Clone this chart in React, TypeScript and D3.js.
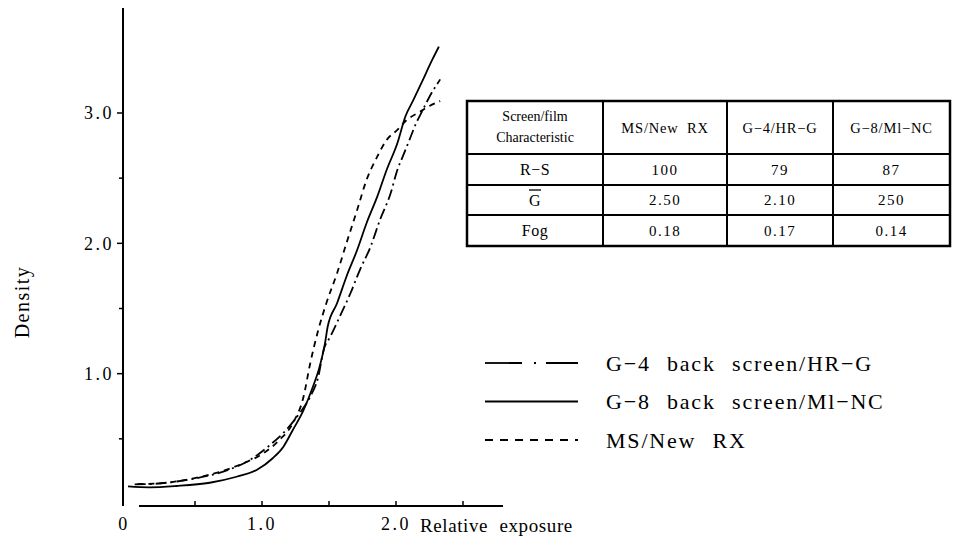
import React from 'react';
import * as d3 from 'd3';

// characteristic curves (relative exposure -> density)
const g4Exposure = [0.05, 0.2, 0.41, 0.59, 0.76, 0.91, 1.06, 1.18, 1.28, 1.36, 1.42, 1.46, 1.51, 1.58, 1.66, 1.73, 1.81, 1.88, 1.96, 2.01, 2.05, 2.1, 2.15, 2.2, 2.25, 2.33];
const g4Density = [0.15, 0.155, 0.18, 0.215, 0.266, 0.338, 0.453, 0.568, 0.696, 0.823, 0.977, 1.182, 1.284, 1.437, 1.617, 1.795, 1.974, 2.179, 2.384, 2.563, 2.665, 2.793, 2.921, 3.023, 3.125, 3.258];

const g8Exposure = [0.0, 0.16, 0.36, 0.61, 0.81, 0.96, 1.08, 1.16, 1.23, 1.31, 1.38, 1.43, 1.47, 1.49, 1.56, 1.63, 1.71, 1.78, 1.86, 1.93, 2.01, 2.07, 2.13, 2.2, 2.27, 2.32];
const g8Density = [0.135, 0.128, 0.138, 0.163, 0.209, 0.261, 0.351, 0.44, 0.568, 0.721, 0.9, 1.054, 1.233, 1.36, 1.54, 1.744, 1.949, 2.154, 2.358, 2.563, 2.768, 2.973, 3.1, 3.253, 3.407, 3.509];

const msExposure = [0.07, 0.24, 0.49, 0.69, 0.86, 1.01, 1.13, 1.23, 1.31, 1.36, 1.42, 1.48, 1.56, 1.63, 1.71, 1.78, 1.86, 1.93, 2.01, 2.08, 2.18, 2.25, 2.33];
const msDensity = [0.153, 0.159, 0.197, 0.248, 0.312, 0.389, 0.491, 0.619, 0.823, 1.08, 1.335, 1.54, 1.77, 2.0, 2.256, 2.486, 2.665, 2.793, 2.87, 2.946, 3.01, 3.054, 3.092];

const yMajorTicks = [1, 2, 3];
const yMinorTicks = [0.5, 1.5, 2.5];
const xTicks = [0.5, 1, 1.5, 2, 2.5];
const xLabelTicks = [0, 1, 2];

const legendLabels = ['G−4 back screen/HR−G', 'G−8 back screen/Ml−NC', 'MS/New RX'];

// table
const tableColumns = ['MS/New RX', 'G−4/HR−G', 'G−8/Ml−NC'];
const tableRowNames = ['R−S', 'G', 'Fog'];
const rsValues = ['100', '79', '87'];
const gammaValues = ['2.50', '2.10', '250'];
const fogValues = ['0.18', '0.17', '0.14'];

const W = 958;
const H = 540;
const serif = "'Liberation Serif', 'DejaVu Serif', serif";

const x = d3.scaleLinear().domain([0, 2.5]).range([128, 463]);
const y = d3.scaleLinear().domain([0, 3]).range([504, 113]);

const line = d3.line<[number, number]>()
  .x(d => x(d[0]))
  .y(d => y(d[1]))
  .curve(d3.curveMonotoneX);

const zip = (a: number[], b: number[]) => a.map((v, i) => [v, b[i]] as [number, number]);

const series = [
  { name: legendLabels[0], pts: zip(g4Exposure, g4Density), dash: '11,4,2,4', legendDash: '37,12,2,10' },
  { name: legendLabels[1], pts: zip(g8Exposure, g8Density), dash: null, legendDash: null },
  { name: legendLabels[2], pts: zip(msExposure, msDensity), dash: '6,5', legendDash: '8,7' },
];

// table layout
const colEdges = [467, 603, 727, 833, 950];
const rowEdges = [101, 154, 185, 215, 246];

const App = () => {
  const rowValues = [rsValues, gammaValues, fogValues];
  const colMid = (i: number) => (colEdges[i] + colEdges[i + 1]) / 2;
  const rowMid = (i: number) => (rowEdges[i] + rowEdges[i + 1]) / 2;

  return (
    <svg width={W} height={H} style={{ position: 'absolute', left: 0, top: 0, background: '#fff', fontFamily: serif }}>
      <rect width={W} height={H} fill="#fff" />

      {/* y axis */}
      <line x1={123} x2={123} y1={8} y2={506} stroke="#000" strokeWidth={2} />
      {yMajorTicks.map(t => (
        <g key={'ym' + t}>
          <line x1={117} x2={123} y1={y(t)} y2={y(t)} stroke="#000" strokeWidth={1.5} />
          <text x={114} y={y(t)} dy="0.35em" textAnchor="end" fontSize={18} letterSpacing={2.5}>
            {d3.format('.1f')(t)}
          </text>
        </g>
      ))}
      {yMinorTicks.map(t => (
        <line key={'yn' + t} x1={119} x2={123} y1={y(t)} y2={y(t)} stroke="#000" strokeWidth={1.5} />
      ))}
      <text transform={`translate(22,${y(1.55)}) rotate(-90)`} textAnchor="middle" dy="0.35em"
        fontSize={20} letterSpacing={1.5}>Density</text>

      {/* x axis */}
      <line x1={139} x2={503} y1={506} y2={506} stroke="#000" strokeWidth={2} />
      {xTicks.map(t => (
        <line key={'xt' + t} x1={x(t)} x2={x(t)} y1={506} y2={501} stroke="#000" strokeWidth={1.5} />
      ))}
      {xLabelTicks.map(t => (
        <text key={'xl' + t} x={t === 0 ? 124 : x(t)} y={530} textAnchor="middle" fontSize={18} letterSpacing={2.5}>
          {t === 0 ? '0' : d3.format('.1f')(t)}
        </text>
      ))}
      <text x={420} y={532} fontSize={19} letterSpacing={0.6} wordSpacing={6}>Relative exposure</text>

      {/* curves */}
      {series.map(s => (
        <path key={s.name} d={line(s.pts) || ''} fill="none" stroke="#000" strokeWidth={1.8}
          strokeDasharray={s.dash || undefined} />
      ))}

      {/* table */}
      <g>
        <rect x={colEdges[0]} y={rowEdges[0]} width={colEdges[4] - colEdges[0]} height={rowEdges[4] - rowEdges[0]}
          fill="none" stroke="#000" strokeWidth={2.5} />
        {colEdges.slice(1, -1).map(cx => (
          <line key={'c' + cx} x1={cx} x2={cx} y1={rowEdges[0]} y2={rowEdges[4]} stroke="#000" strokeWidth={2} />
        ))}
        {rowEdges.slice(1, -1).map(ry => (
          <line key={'r' + ry} x1={colEdges[0]} x2={colEdges[4]} y1={ry} y2={ry} stroke="#000" strokeWidth={2} />
        ))}
        <text x={colMid(0)} y={rowEdges[0] + 20} textAnchor="middle" fontSize={14}>Screen/film</text>
        <text x={colMid(0)} y={rowEdges[0] + 41} textAnchor="middle" fontSize={14}>Characteristic</text>
        {tableColumns.map((c, i) => (
          <text key={c} x={colMid(i + 1)} y={rowMid(0)} dy="0.35em" textAnchor="middle" fontSize={14.5}
            letterSpacing={0.8} wordSpacing={4}>{c}</text>
        ))}
        {tableRowNames.map((r, i) => (
          <g key={r}>
            <text x={colMid(0)} y={rowMid(i + 1)} dy="0.35em" textAnchor="middle" fontSize={16} letterSpacing={0.5}>{r}</text>
            {r === 'G' && (
              <line x1={colMid(0) - 6} x2={colMid(0) + 6} y1={rowMid(i + 1) - 10} y2={rowMid(i + 1) - 10}
                stroke="#000" strokeWidth={1.3} />
            )}
            {rowValues[i].map((v, j) => (
              <text key={j} x={colMid(j + 1)} y={rowMid(i + 1)} dy="0.35em" textAnchor="middle" fontSize={15}
                letterSpacing={1.5}>{v}</text>
            ))}
          </g>
        ))}
      </g>

      {/* legend */}
      {series.map((s, i) => {
        const ly = 363 + i * 38.5;
        return (
          <g key={'lg' + i}>
            <line x1={485} x2={578} y1={ly} y2={ly} stroke="#000" strokeWidth={1.8}
              strokeDasharray={s.legendDash || undefined} />
            <text x={606} y={ly} dy="0.35em" fontSize={22} letterSpacing={1.8} wordSpacing={9}>{s.name}</text>
          </g>
        );
      })}
    </svg>
  );
};

export default App;
